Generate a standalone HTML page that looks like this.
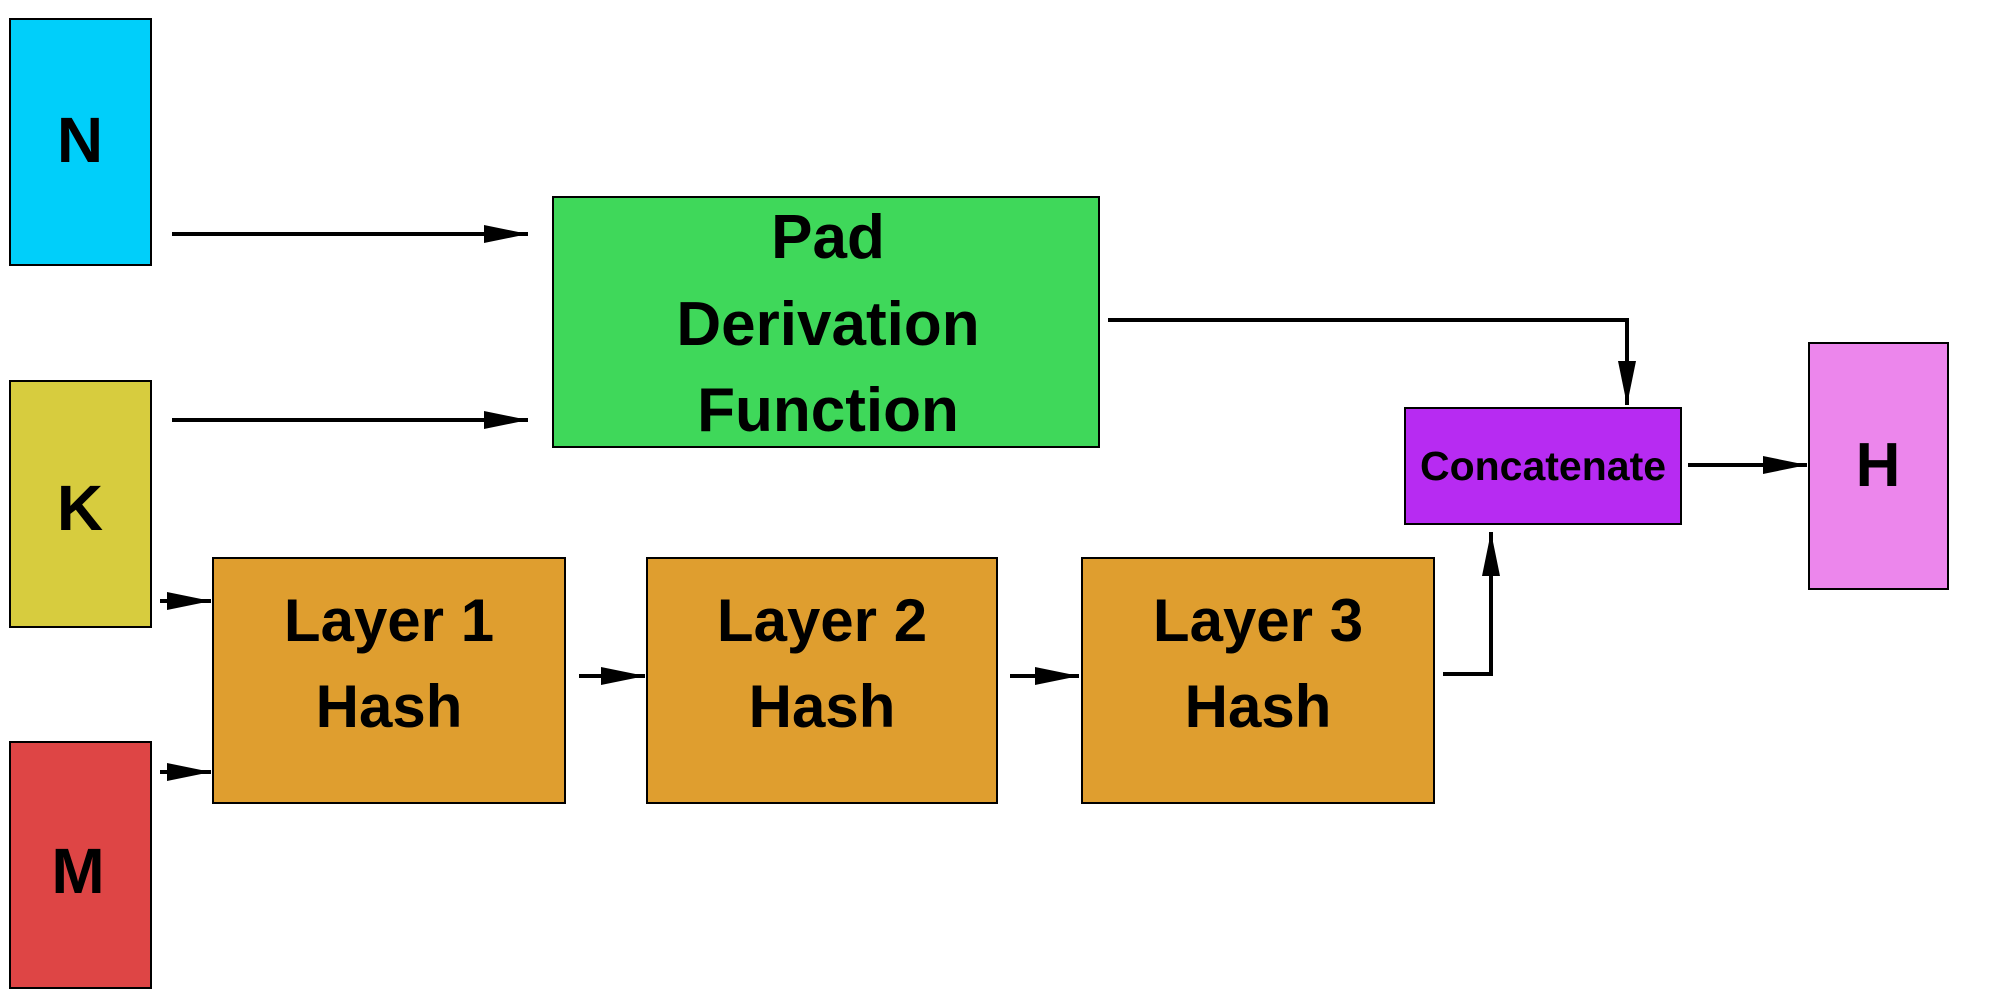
<!DOCTYPE html>
<html><head><style>
html,body{margin:0;padding:0;background:#fff;}
svg{display:block}
text{font-family:"Liberation Sans",sans-serif;font-weight:bold;fill:#000;text-anchor:middle;}
</style></head><body>
<svg width="2000" height="1000" viewBox="0 0 2000 1000">
<defs>
<marker id="a" markerWidth="44" markerHeight="24" refX="44" refY="12" orient="auto" markerUnits="userSpaceOnUse">
<path d="M0,3 L44,12 L0,21 Z" fill="#000"/>
</marker>
</defs>
<g stroke="#000" stroke-width="2">
<rect x="10" y="19" width="141" height="246" fill="#00cffa"/>
<rect x="10" y="381" width="141" height="246" fill="#d7cc3e"/>
<rect x="10" y="742" width="141" height="246" fill="#de4545"/>
<rect x="553" y="197" width="546" height="250" fill="#3fd85a"/>
<rect x="213" y="558" width="352" height="245" fill="#df9e2f"/>
<rect x="647" y="558" width="350" height="245" fill="#df9e2f"/>
<rect x="1082" y="558" width="352" height="245" fill="#df9e2f"/>
<rect x="1405" y="408" width="276" height="116" fill="#b72bf2"/>
<rect x="1809" y="343" width="139" height="246" fill="#ec86ec"/>
</g>
<g stroke="#000" stroke-width="4" fill="none">
<path d="M172 234 H528" marker-end="url(#a)"/>
<path d="M172 420 H528" marker-end="url(#a)"/>
<path d="M160 601 H211" marker-end="url(#a)"/>
<path d="M160 772 H211" marker-end="url(#a)"/>
<path d="M579 676 H645" marker-end="url(#a)"/>
<path d="M1010 676 H1079" marker-end="url(#a)"/>
<path d="M1443 674 H1491 V532" marker-end="url(#a)"/>
<path d="M1108 320 H1627 V405" marker-end="url(#a)"/>
<path d="M1688 465 H1807" marker-end="url(#a)"/>
</g>
<text x="80" y="162" font-size="64">N</text>
<text x="80" y="530" font-size="64">K</text>
<text x="78" y="893" font-size="64">M</text>
<text x="828" y="258" font-size="62">Pad</text>
<text x="828" y="345" font-size="62">Derivation</text>
<text x="828" y="431" font-size="62">Function</text>
<text x="389" y="641" font-size="60">Layer 1</text>
<text x="389" y="727" font-size="60">Hash</text>
<text x="822" y="641" font-size="60">Layer 2</text>
<text x="822" y="727" font-size="60">Hash</text>
<text x="1258" y="641" font-size="60">Layer 3</text>
<text x="1258" y="727" font-size="60">Hash</text>
<text x="1543" y="480" font-size="41">Concatenate</text>
<text x="1878" y="486" font-size="62">H</text>
</svg>
</body></html>
